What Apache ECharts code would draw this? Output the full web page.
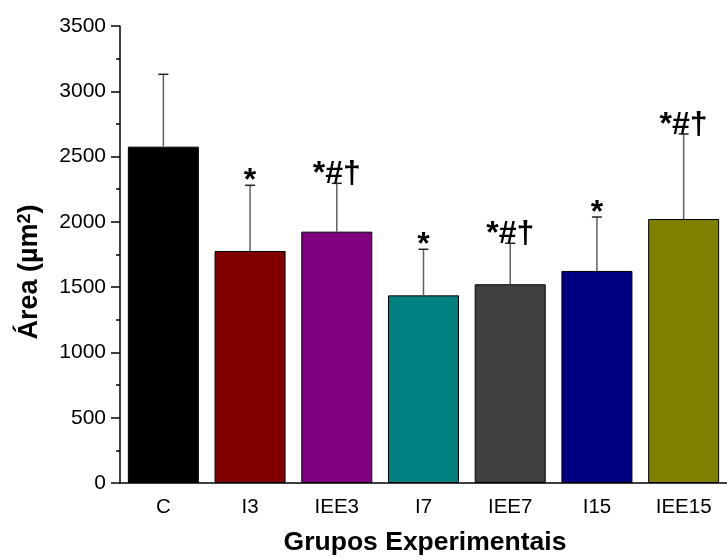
<!DOCTYPE html>
<html>
<head>
<meta charset="utf-8">
<script src="https://cdn.jsdelivr.net/npm/echarts@6/dist/echarts.min.js"></script>
<style>html,body{margin:0;padding:0;background:#fff}#c{width:727px;height:560px}</style>
</head>
<body>
<div id="c"></div>
<script>
const categories = ['C', 'I3', 'IEE3', 'I7', 'IEE7', 'I15', 'IEE15'];
const means = [2576, 1777, 1925, 1437, 1522, 1624, 2022];
const upperErrors = [554, 503, 370, 353, 314, 413, 651];
const marks = ['', '*', '*#†', '*', '*#†', '*', '*#†'];
const barColors = ['#000000', '#800000', '#800080', '#008080', '#404040', '#000080', '#808000'];
const yMin = 0, yMax = 3500, yInterval = 500;

const FONT = 'Arial, "Liberation Sans", sans-serif';
const chart = echarts.init(document.getElementById('c'));

const errData = categories.map((c, i) => [i, means[i], means[i] + upperErrors[i]]);

chart.setOption({
  animation: false,
  backgroundColor: '#fff',
  grid: { left: 120, right: -4, top: 26, bottom: 77 },
  xAxis: [{
    type: 'category',
    data: categories,
    axisLine: { lineStyle: { color: '#000', width: 1.5 } },
    axisTick: { alignWithLabel: true, length: 9, lineStyle: { color: '#000', width: 1.5 } },
    axisLabel: { color: '#000', fontSize: 20.5, fontFamily: FONT, margin: 14 }
  }, {
    type: 'category',
    data: categories,
    position: 'bottom',
    axisLine: { show: false },
    axisTick: { length: 4, lineStyle: { color: '#000', width: 1.5 } },
    axisLabel: { show: false }
  }],
  yAxis: {
    type: 'value',
    min: yMin, max: yMax, interval: yInterval,
    axisLine: { show: true, lineStyle: { color: '#000', width: 1.5 } },
    axisTick: { show: true, length: 9, lineStyle: { color: '#000', width: 1.5 } },
    minorTick: { show: true, splitNumber: 2, length: 4, lineStyle: { color: '#000', width: 1.5 } },
    splitLine: { show: false },
    axisLabel: { color: '#000', fontSize: 21, fontFamily: FONT, margin: 14, formatter: v => String(v) }
  },
  graphic: [
    {
      type: 'text', x: 425, y: 543, style: {
        text: 'Grupos Experimentais', font: 'bold 26.5px ' + FONT, fill: '#000',
        align: 'center', verticalAlign: 'middle'
      }
    },
    {
      type: 'text', x: 30, y: 272, rotation: Math.PI / 2, style: {
        text: '{b|Área (µm}{s|2}{b|)}',
        rich: {
          b: { font: 'bold 27px ' + FONT, fill: '#000', verticalAlign: 'bottom' },
          s: { font: 'bold 18px ' + FONT, fill: '#000', verticalAlign: 'top' }
        },
        align: 'center', verticalAlign: 'middle'
      }
    }
  ],
  series: [{
    type: 'bar',
    data: means.map((v, i) => ({ value: v, itemStyle: { color: barColors[i] } })),
    barWidth: 71,
    itemStyle: { borderColor: '#000', borderWidth: 1 },
    z: 2
  }, {
    type: 'custom',
    data: errData,
    z: 3,
    renderItem: function (params, api) {
      const i = api.value(0);
      const p0 = api.coord([i, api.value(1)]);
      const p1 = api.coord([i, api.value(2)]);
      const cap = 5;
      const children = [
        { type: 'line', shape: { x1: p0[0], y1: p0[1], x2: p1[0], y2: p1[1] }, style: { stroke: '#606060', lineWidth: 1.5 } },
        { type: 'line', shape: { x1: p1[0] - cap, y1: p1[1], x2: p1[0] + cap, y2: p1[1] }, style: { stroke: '#202020', lineWidth: 1.5 } }
      ];
      const m = marks[params.dataIndex];
      if (m) {
        const dy = m.length === 1 ? 12 : 7;
        children.push({
          type: 'text', x: p1[0], y: p1[1] + dy,
          style: { text: m, font: 'bold 32px ' + FONT, fill: '#000', align: 'center', verticalAlign: 'bottom' }
        });
      }
      return { type: 'group', children: children };
    }
  }]
});
</script>
</body>
</html>
